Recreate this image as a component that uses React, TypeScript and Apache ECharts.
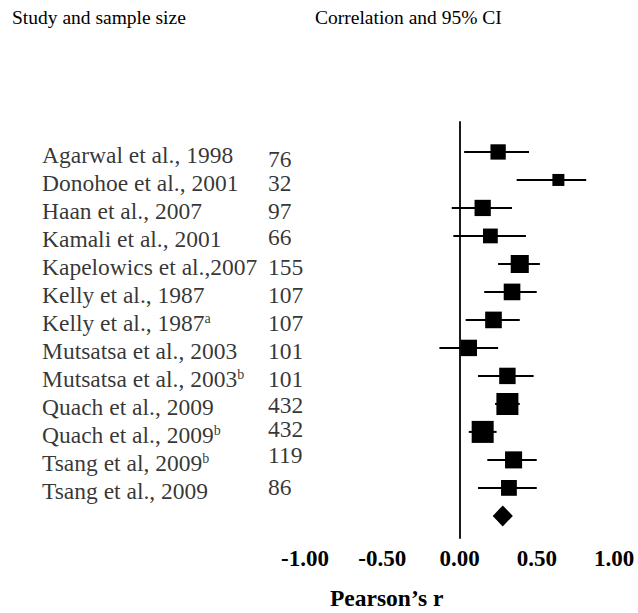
import React, { useEffect, useRef } from 'react';
import * as echarts from 'echarts';

// ---- data ----
const studies = [
  'Agarwal et al., 1998',
  'Donohoe et al., 2001',
  'Haan et al., 2007',
  'Kamali et al., 2001',
  'Kapelowics et al.,2007',
  'Kelly et al., 1987',
  'Kelly et al., 1987',
  'Mutsatsa et al., 2003',
  'Mutsatsa et al., 2003',
  'Quach et al., 2009',
  'Quach et al., 2009',
  'Tsang et al, 2009',
  'Tsang et al., 2009',
];
const footnotes = ['', '', '', '', '', '', 'a', '', 'b', '', 'b', 'b', ''];
const sampleSizes = [76, 32, 97, 66, 155, 107, 107, 101, 101, 432, 432, 119, 86];
const correlations = [0.25, 0.64, 0.15, 0.2, 0.39, 0.34, 0.22, 0.06, 0.31, 0.31, 0.15, 0.35, 0.32];
const lowerCI = [0.03, 0.37, -0.05, -0.04, 0.25, 0.16, 0.04, -0.13, 0.12, 0.23, 0.06, 0.18, 0.12];
const upperCI = [0.45, 0.82, 0.34, 0.43, 0.52, 0.5, 0.39, 0.25, 0.48, 0.39, 0.24, 0.5, 0.5];
const pooledEstimate = [0.28, 0.215, 0.345]; // r, lower, upper
const xTickValues = [-1, -0.5, 0, 0.5, 1];
const headerStudy = 'Study and sample size';
const headerCI = 'Correlation and 95% CI';
const axisTitle = 'Pearson’s r';

// ---- layout (pixels) ----
const GRID_LEFT = 305;
const labelX = 42;
const sizeX = 268;
const labelDy = 3;
const sizeDy = [4, 0, 0, -2, 0, 0, 0, 0, 0, -2, -6, -8, -4];
const FONT = 'Liberation Serif';
const LABEL_SIZE = 23.5;

export default function App() {
  const ref = useRef<HTMLDivElement>(null);

  useEffect(() => {
    if (!ref.current) return;
    const chart = echarts.init(ref.current, undefined, { renderer: 'svg' });

    const rows: any[] = correlations.map((r, i) => [r, lowerCI[i], upperCI[i], i, sampleSizes[i], 0]);
    rows.push([pooledEstimate[0], pooledEstimate[1], pooledEstimate[2], studies.length, 0, 1]);

    const renderItem = (params: any, api: any) => {
      const r = api.value(0);
      const lo = api.value(1);
      const hi = api.value(2);
      const row = api.value(3);
      const n = api.value(4);
      const isPooled = api.value(5) === 1;
      const c = api.coord([r, row]);
      const pl = api.coord([lo, row]);
      const ph = api.coord([hi, row]);
      if (isPooled) {
        const h = 10.5;
        return {
          type: 'polygon',
          shape: { points: [[pl[0], c[1]], [c[0], c[1] - h], [ph[0], c[1]], [c[0], c[1] + h]] },
          style: { fill: '#000' },
        };
      }
      const s = 3.85 * Math.log(n) - 1.35;
      return {
        type: 'group',
        children: [
          {
            type: 'line',
            shape: { x1: pl[0], y1: pl[1], x2: ph[0], y2: ph[1] },
            style: { stroke: '#000', lineWidth: 2 },
          },
          {
            type: 'rect',
            shape: { x: c[0] - s / 2, y: c[1] - s / 2, width: s, height: s },
            style: { fill: '#000' },
          },
        ],
      };
    };

    const xLeft = xTickValues[0];

    const labelData = studies.map((name, i) => ({
      value: [xLeft, i],
      name: footnotes[i] ? `{m|${name}}{s|${footnotes[i]}}` : `{m|${name}}`,
    }));

    const sizeData = sampleSizes.map((n, i) => ({
      value: [xLeft, i],
      name: String(n),
      label: { position: [sizeX - GRID_LEFT, labelDy + sizeDy[i]] },
    }));

    chart.setOption({
      animation: false,
      backgroundColor: '#fff',
      textStyle: { fontFamily: FONT },
      grid: { left: GRID_LEFT, right: 24, top: 122, bottom: 75, containLabel: false },
      xAxis: {
        type: 'value',
        min: xTickValues[0],
        max: xTickValues[xTickValues.length - 1],
        interval: xTickValues[1] - xTickValues[0],
        axisLine: { show: false, onZero: false },
        axisTick: { show: false },
        splitLine: { show: false },
        axisLabel: {
          margin: 9,
          color: '#000',
          fontSize: 23,
          fontWeight: 'bold',
          fontFamily: FONT,
          showMinLabel: true,
          showMaxLabel: true,
          formatter: (v: number) => v.toFixed(2),
        },
      },
      yAxis: {
        type: 'value',
        inverse: true,
        min: -1.07,
        max: 13.79,
        axisLine: { show: true, onZero: true, lineStyle: { color: '#000', width: 1.8 } },
        axisTick: { show: false },
        axisLabel: { show: false },
        splitLine: { show: false },
      },
      graphic: [
        {
          type: 'text',
          x: 12,
          y: 17,
          style: { text: headerStudy, fontSize: 19.5, fontFamily: FONT, fill: '#000', verticalAlign: 'middle' },
        },
        {
          type: 'text',
          x: 315,
          y: 17,
          style: { text: headerCI, fontSize: 19.5, fontFamily: FONT, fill: '#000', verticalAlign: 'middle' },
        },
        {
          type: 'text',
          x: 330,
          y: 598,
          style: { text: axisTitle, fontSize: 23.5, fontWeight: 'bold', fontFamily: FONT, fill: '#000', verticalAlign: 'middle' },
        },
      ],
      series: [
        {
          type: 'custom',
          clip: false,
          renderItem,
          encode: { x: [0, 1, 2], y: 3 },
          data: rows,
          silent: true,
        },
        {
          type: 'scatter',
          clip: false,
          silent: true,
          symbol: 'rect',
          symbolSize: 0,
          data: labelData,
          label: {
            show: true,
            position: [labelX - GRID_LEFT, labelDy],
            align: 'left',
            verticalAlign: 'middle',
            formatter: (p: any) => p.name,
            color: '#000',
            fontFamily: FONT,
            fontSize: LABEL_SIZE,
            lineHeight: 22,
            rich: {
              m: { fontSize: LABEL_SIZE, fontFamily: FONT, color: '#000', lineHeight: 22, verticalAlign: 'middle' },
              s: { fontSize: 14, fontFamily: FONT, color: '#000', lineHeight: 22, verticalAlign: 'top' },
            },
          },
        },
        {
          type: 'scatter',
          clip: false,
          silent: true,
          symbol: 'rect',
          symbolSize: 0,
          data: sizeData,
          label: {
            show: true,
            align: 'left',
            verticalAlign: 'middle',
            formatter: (p: any) => p.name,
            color: '#000',
            fontFamily: FONT,
            fontSize: LABEL_SIZE,
            lineHeight: 18,
          },
        },
      ],
    });

    return () => chart.dispose();
  }, []);

  return (
    <div
      ref={ref}
      style={{ position: 'fixed', left: 0, top: 0, width: 638, height: 613, background: '#fff' }}
    />
  );
}
